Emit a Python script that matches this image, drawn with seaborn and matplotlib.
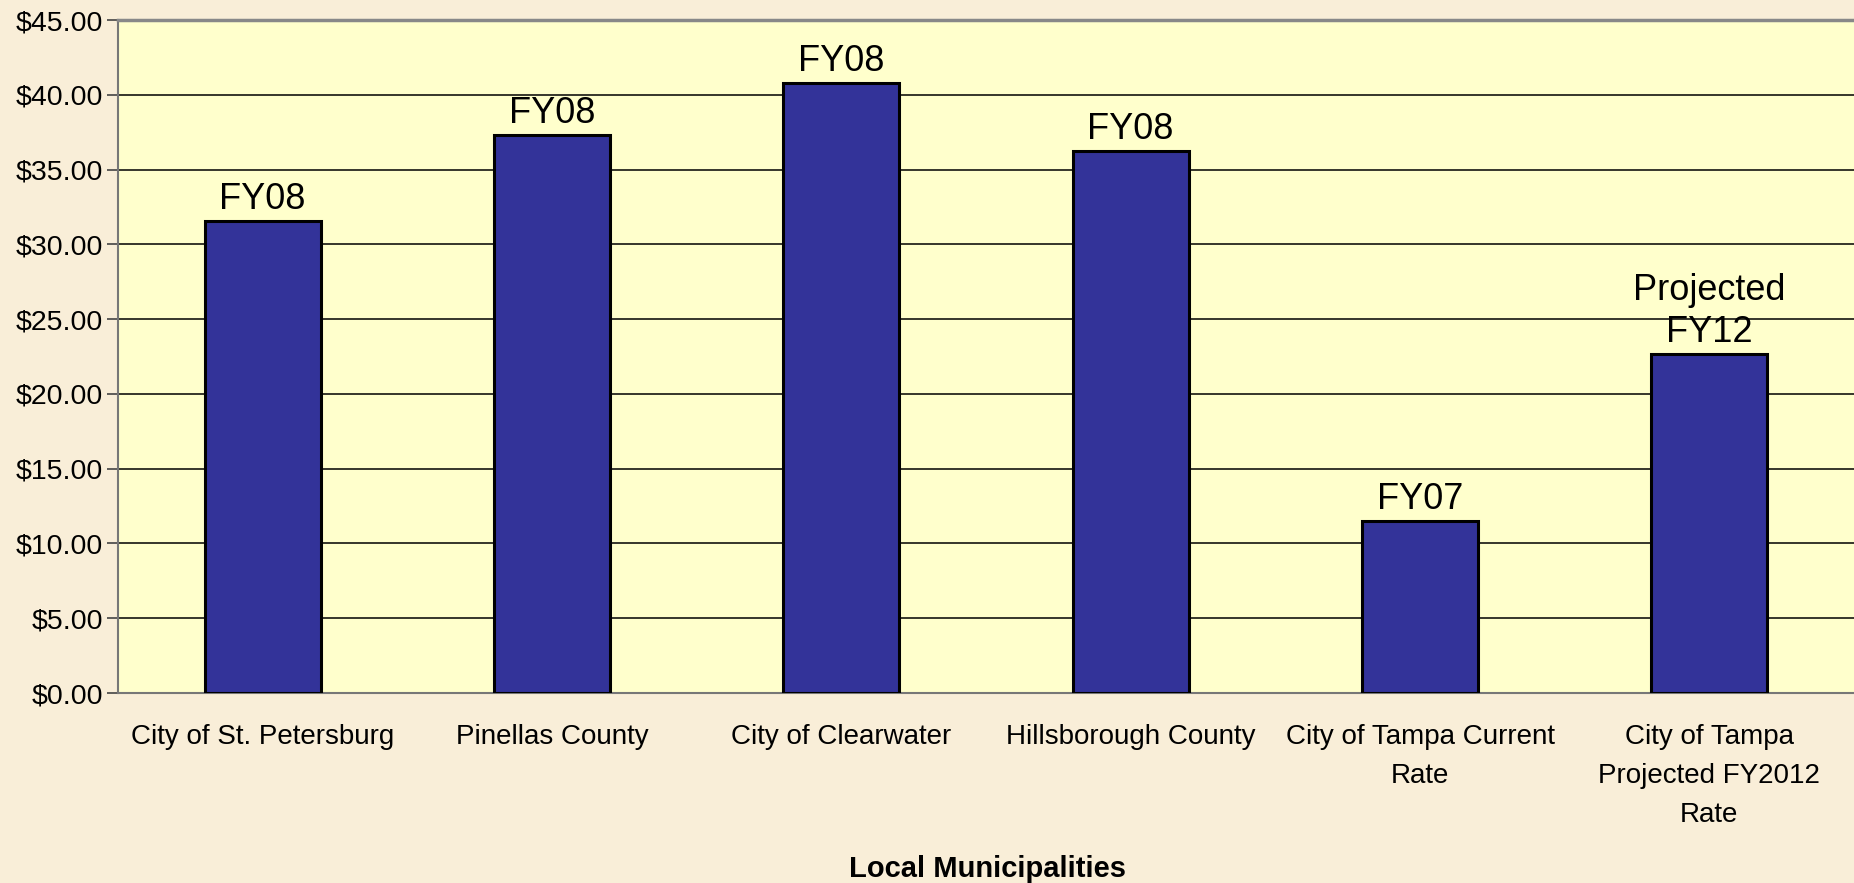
import matplotlib
matplotlib.use("Agg")
import matplotlib.pyplot as plt
import seaborn as sns
import pandas as pd

# values
municipalities = ["City of St. Petersburg", "Pinellas County", "City of Clearwater",
                  "Hillsborough County", "City of Tampa Current\nRate",
                  "City of Tampa\nProjected FY2012\nRate"]
rates = [31.55, 37.3, 40.8, 36.25, 11.5, 22.65]
bar_notes = ["FY08", "FY08", "FY08", "FY08", "FY07", "Projected\nFY12"]
y_ticks = [0, 5, 10, 15, 20, 25, 30, 35, 40, 45]

df = pd.DataFrame({"municipality": municipalities, "rate": rates})

sns.set_style("white")
plt.rcParams["font.family"] = ["Liberation Sans", "DejaVu Sans"]
plt.rcParams["text.color"] = "black"
plt.rcParams["xtick.color"] = "black"
plt.rcParams["ytick.color"] = "black"

fig = plt.figure(figsize=(18.54, 8.83), dpi=100, facecolor="#F9EEd8")
ax = fig.add_axes([118 / 1854, 1 - 693 / 883, 1 - 118 / 1854, (693 - 20) / 883])
ax.set_facecolor("#FFFFCC")

sns.barplot(data=df, x="municipality", y="rate", color="#333399", saturation=1,
            edgecolor="black", linewidth=2.2, width=0.4, ax=ax, zorder=3)

# labels above bars
for i, (v, note) in enumerate(zip(rates, bar_notes)):
    ax.annotate(note, (i, v), xytext=(0, 3), textcoords="offset points",
                ha="center", va="bottom", fontsize=26, color="black",
                linespacing=1.25, zorder=4)

ax.set_ylim(0, 45)
ax.set_xlim(-0.5, 5.5)
ax.set_yticks(y_ticks)
ax.set_yticklabels([f"${t:.2f}" for t in y_ticks], fontsize=20.5)
ax.yaxis.grid(True, color="black", linewidth=1.1, zorder=0)
ax.set_axisbelow(True)

# category labels at centres, tick marks at boundaries
ax.set_xticks(range(len(municipalities)))
ax.set_xticklabels(municipalities, fontsize=20, linespacing=1.65)
ax.tick_params(axis="x", length=0, pad=22)
ax.set_xticks([i - 0.5 for i in range(len(municipalities) + 1)], minor=True)
ax.tick_params(axis="x", which="minor", length=7, width=1.2, color="#666666", direction="out")
ax.tick_params(axis="y", length=8, width=1.2, color="#444444", direction="out", pad=3, left=True)

ax.set_xlabel("")
ax.set_ylabel("")
for side in ["left", "bottom"]:
    ax.spines[side].set_color("#777777")
    ax.spines[side].set_linewidth(1.5)
ax.spines["top"].set_color("#888888")
ax.spines["top"].set_linewidth(2.5)
ax.spines["right"].set_visible(False)

fig.text(988 / 1854, 1 - 869 / 883, "Local Municipalities", ha="center", va="center",
         fontsize=21, fontweight="bold")

fig.savefig("out.png", dpi=100, facecolor=fig.get_facecolor())
